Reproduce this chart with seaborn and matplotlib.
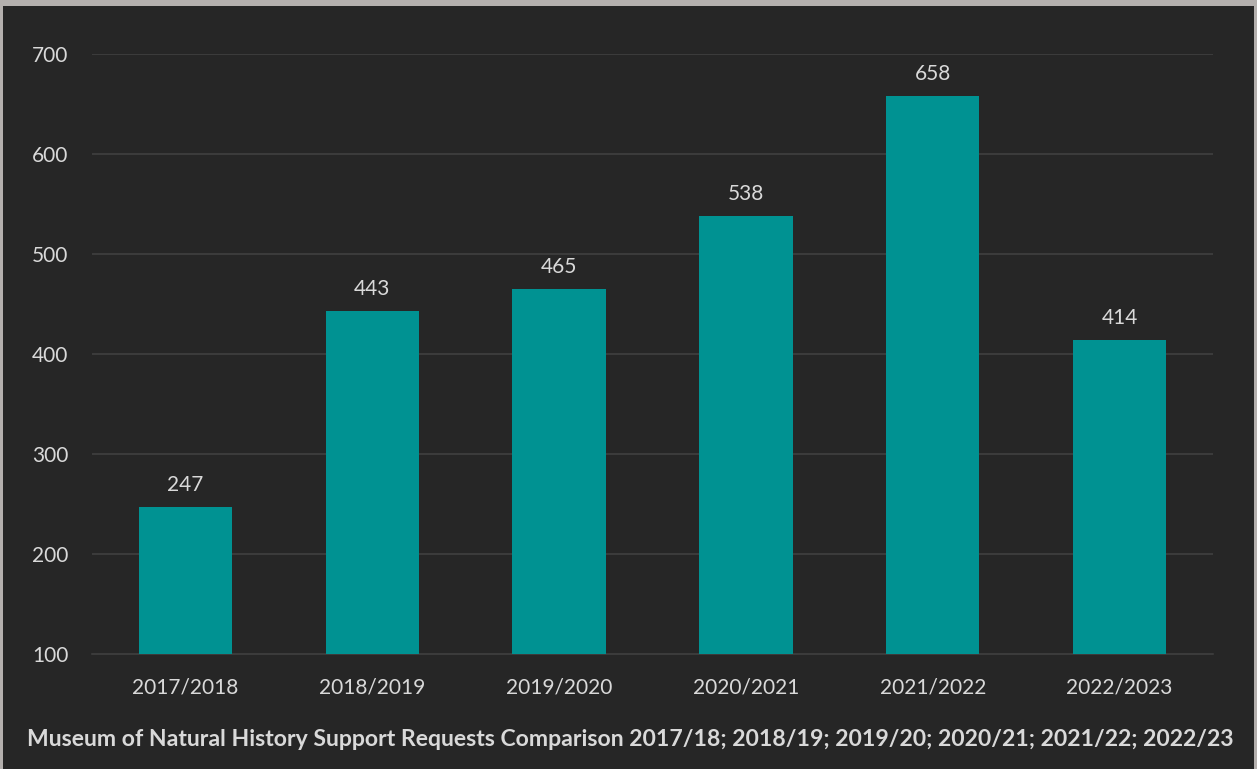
import matplotlib
matplotlib.use("Agg")
import matplotlib.pyplot as plt
from matplotlib.patches import Rectangle
import seaborn as sns
import pandas as pd

# Support requests per academic year
years = ["2017/2018", "2018/2019", "2019/2020", "2020/2021", "2021/2022", "2022/2023"]
requests = [247, 443, 465, 538, 658, 414]
y_ticks = [100, 200, 300, 400, 500, 600, 700]
title = ("Museum of Natural History Support Requests Comparison "
         "2017/18; 2018/19; 2019/20; 2020/21; 2021/22; 2022/23")

BG = "#262626"
FRAME = "#b4b0ae"
TEAL = "#009292"
TEXT = "#d9d9d9"
GRID = "#3b3b3b"

sns.set_theme(style="dark")
plt.rcParams["font.family"] = ["Lato", "DejaVu Sans"]

df = pd.DataFrame({"year": years, "requests": requests})

W, H = 1257, 769
fig = plt.figure(figsize=(W / 100, H / 100), dpi=100)
fig.patch.set_facecolor(FRAME)
# dark panel inside the light frame
fig.patches.append(Rectangle((3 / W, 0), (1254 - 3) / W, (H - 6) / H,
                             transform=fig.transFigure, facecolor=BG,
                             edgecolor="none", zorder=-5))

ax = fig.add_axes([92 / W, (H - 654) / H, (1213 - 92) / W, (654 - 54) / H])
ax.set_facecolor(BG)

sns.barplot(data=df, x="year", y="requests", color=TEAL, saturation=1,
            width=0.5, ax=ax, zorder=3, edgecolor="none", linewidth=0)

ax.set_ylim(100, 700)
ax.set_xlim(-0.5, len(years) - 0.5)
ax.set_yticks(y_ticks)
ax.yaxis.grid(True, color=GRID, linewidth=1.5, zorder=0)
ax.xaxis.grid(False)
for s in ax.spines.values():
    s.set_visible(False)
ax.axhline(100, color=GRID, linewidth=1.5, zorder=1, clip_on=False)

ax.tick_params(axis="both", length=0, colors=TEXT, labelsize=15)
ax.tick_params(axis="y", pad=17)
ax.tick_params(axis="x", pad=17)
ax.set_xlabel("")
ax.set_ylabel("")

for i, v in enumerate(requests):
    ax.annotate(f"{v}", (i, v), xytext=(0, 16), textcoords="offset points",
                ha="center", va="center", color=TEXT, fontsize=15)

fig.text(630 / W, 1 - 739 / H, title, ha="center", va="center",
         color=TEXT, fontsize=16.6, fontweight="bold")

fig.savefig("out.png", dpi=100, facecolor=fig.get_facecolor())
